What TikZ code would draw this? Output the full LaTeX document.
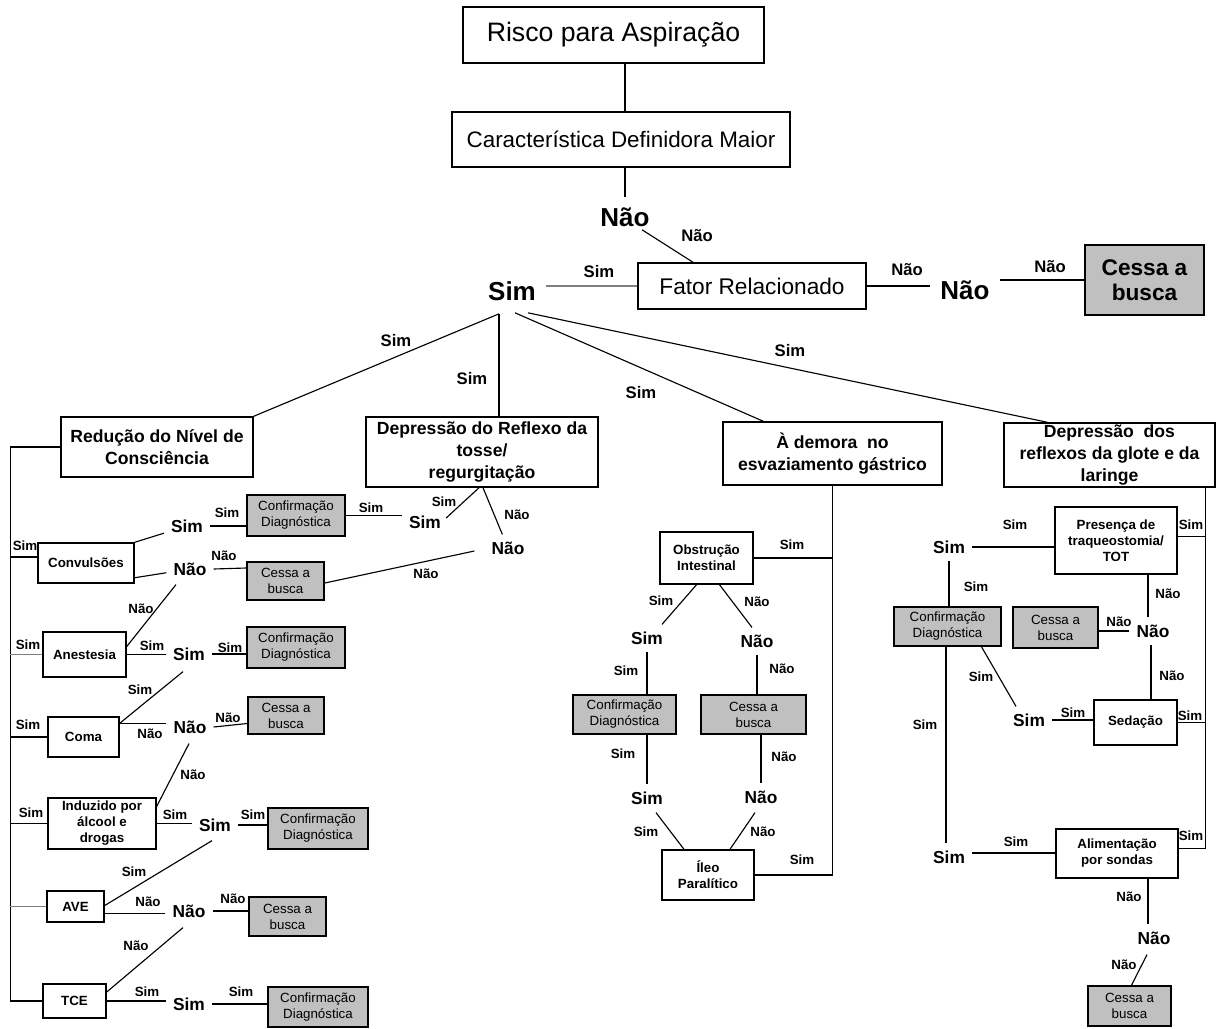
\documentclass[tikz,border=0pt]{standalone}
\usepackage{fontspec}
\setmainfont{Liberation Sans}
\usetikzlibrary{calc}
\definecolor{boxgray}{RGB}{192,192,192}

\tikzset{
  sz/.style 2 args={minimum width=#1*0.75pt, minimum height=#2*0.75pt},
  base/.style={draw, line width=1.1pt, inner sep=0pt, align=center},
  topbox/.style={base, font=\fontsize{16.8}{20}\selectfont},
  bigbox/.style={base, font=\fontsize{13.2}{16.5}\selectfont\bfseries},
  smallbox/.style={base, font=\fontsize{10}{12}\selectfont\bfseries},
  graybox/.style={base, fill=boxgray, line width=1.2pt, font=\fontsize{10}{12}\selectfont},
  bigword/.style={font=\fontsize{19.5}{22}\selectfont\bfseries, inner sep=7.5pt},
  midword/.style={font=\fontsize{13}{15}\selectfont\bfseries, inner sep=5.25pt},
  lab/.style={font=\fontsize{10}{12}\selectfont\bfseries, inner sep=0pt},
  toplab/.style={font=\fontsize{12.5}{14}\selectfont\bfseries, inner sep=0pt},
  conn/.style={line width=0.85pt},
}

\begin{document}
\begin{tikzpicture}[x=0.75pt,y=-0.75pt]
\fill[white] (0,0) rectangle (1223,1028);
\useasboundingbox (0,0) rectangle (1223,1028);

% ---------- top of the tree ----------
\node[topbox, font=\fontsize{20}{24}\selectfont, sz={301}{56}] (risco) at (613.5,35) {Risco para Aspiração};
\node[topbox, sz={338}{55}] (carac) at (621,139.5) {Característica Definidora Maior};
\node[topbox, font=\fontsize{17}{20}\selectfont, sz={228}{46}] (fator) at (752,286) {Fator Relacionado};
\node[base, fill=boxgray, line width=1.2pt, font=\fontsize{17}{19}\selectfont\bfseries, sz={119}{70}] (cessa0) at (1144.5,280) {Cessa a\\busca};

\node[bigword] (nao0) at (625,217) {Não};
\node[bigword] (sim0) at (512,291) {Sim};
\node[bigword] (nao00) at (965,290) {Não};

\draw[conn] (risco.south -| nao0) -- (carac.north -| nao0);
\draw[conn] (carac.south -| nao0) -- (nao0.north);
\draw[conn] ($(nao0.south)+(17,-7)$) -- ($(fator.north)+(-59,0)$);
\draw[conn, gray] (sim0.east |- fator.west) -- (fator.west);
\draw[conn] (fator.east) -- (fator.east -| nao00.west);
\draw[conn] (nao00.east |- cessa0.west) -- (cessa0.west);

\node[toplab] (t1) at (697,236) {Não};
\node[toplab] (t2) at (599,272) {Sim};
\node[toplab] (t3) at (907,270) {Não};
\node[toplab] (t4) at (1050,267) {Não};

% ---------- four related factors ----------
\node[bigbox, sz={192}{60}] (redu) at (157,447) {Redução do Nível de\\Consciência};
\node[bigbox, sz={232}{70}] (tosse) at (482,452) {Depressão do Reflexo da\\tosse/\\regurgitação};
\node[bigbox, sz={219}{63}] (demora) at (832.5,453.5) {À demora~~no\\esvaziamento gástrico};
\node[bigbox, sz={211}{64}] (glote) at (1109.5,455) {Depressão~~dos\\reflexos da glote e da\\laringe};

\draw[conn] ($(sim0.south)+(-13,3)$) -- (redu.north east);
\draw[conn] ($(sim0.south)+(-13,3)$) -- ($(tosse.north)+(17,0)$);
\draw[conn] ($(sim0.south)+(3,2)$) -- ($(demora.north west)+(41,0)$);
\draw[conn] ($(sim0.south)+(16,2)$) -- ($(glote.north west)+(44,0)$);

\node[toplab] (t5) at (396,341) {Sim};
\node[toplab] (t6) at (472,379) {Sim};
\node[toplab] (t7) at (641,393) {Sim};
\node[toplab] (t8) at (790,351) {Sim};

% ---------- left branch: level of consciousness ----------
\node[smallbox, sz={96}{40}] (conv) at (86,563) {Convulsões};
\node[smallbox, sz={83}{45}] (anest) at (84.5,654.5) {Anestesia};
\node[smallbox, sz={71}{40}] (coma) at (83.5,737) {Coma};
\node[smallbox, sz={108}{51}] (induz) at (102,823.5) {Induzido por\\álcool e\\drogas};
\node[smallbox, sz={57}{31}] (ave) at (75.5,906.5) {AVE};
\node[smallbox, sz={63}{34}] (tce) at (74.5,1001) {TCE};

\node[graybox, sz={98}{41}] (conf1) at (296,515.5) {Confirmação\\Diagnóstica};
\node[graybox, sz={77}{38}] (cessa1) at (285.5,581) {Cessa a\\busca};
\node[graybox, sz={98}{41}] (conf2) at (296,647.5) {Confirmação\\Diagnóstica};
\node[graybox, sz={76}{37}] (cessa2) at (286,715.5) {Cessa a\\busca};
\node[graybox, sz={100}{41}] (conf3) at (318,828.5) {Confirmação\\Diagnóstica};
\node[graybox, sz={77}{39}] (cessa3) at (287.5,916.5) {Cessa a\\busca};
\node[graybox, sz={100}{40}] (conf4) at (318,1007) {Confirmação\\Diagnóstica};

\node[midword] (s1) at (187,526) {Sim};
\node[midword] (n1) at (190,569) {Não};
\node[midword] (simT) at (425,522) {Sim};
\node[midword] (naoT) at (508,548) {Não};
\node[midword] (s2) at (189,654) {Sim};
\node[midword] (n2) at (190,727) {Não};
\node[midword] (s3) at (215,825) {Sim};
\node[midword] (n3) at (189,911) {Não};
\node[midword] (s4) at (189,1004) {Sim};

\coordinate (railL) at ($(redu.west)+(-50,0)$);
\draw[conn] (redu.west) -- (railL) -- (railL |- tce.west) -- (tce.west);
\draw[conn] ($(conv.west)+(0,-6)$) coordinate (c1) -- (c1 -| railL);
\draw[conn, gray] (anest.west) -- (anest.west -| railL);
\draw[conn] (coma.west) -- (coma.west -| railL);
\draw[conn] (induz.west) -- (induz.west -| railL);
\draw[conn, gray] (ave.west) -- (ave.west -| railL);

\draw[conn] (conv.north east) -- (s1);
\draw[conn] ($(conv.south east)+(0,-6)$) -- (n1);
\draw[conn] (s1.east) -- (s1.east -| conf1.west);
\draw[conn] (n1.east) -- ($(cessa1.west)+(0,-13)$);
\draw[conn] (conf1.east) -- (conf1.east -| simT.west);
\draw[conn] ($(simT.east)+(-2,-4)$) -- ($(tosse.south)+(-3,0)$);
\draw[conn] ($(tosse.south)+(1,0)$) -- (naoT);
\draw[conn] ($(naoT.west)+(-10,3)$) -- ($(cessa1.east)+(0,2)$);
\draw[conn] ($(n1.south)+(-14,2)$) -- ($(anest.east)+(0,-8)$);
\draw[conn] (anest.east) -- (anest.east -| s2.west);
\draw[conn] (s2.east) -- (s2.east -| conf2.west);
\draw[conn] ($(s2.south)+(-6,4)$) -- ($(coma.north east)+(0,7)$);
\draw[conn] ($(coma.north east)+(0,7)$) coordinate (c2) -- (c2 -| n2.west);
\draw[conn] (n2.east) -- ($(cessa2.west)+(0,8)$);
\draw[conn] ($(n2.south)+(-1,3)$) -- ($(induz.north east)+(0,9)$);
\draw[conn] (induz.east) -- (induz.east -| s3.west);
\draw[conn] (s3.east) -- (s3.east -| conf3.west);
\draw[conn] ($(s3.south)+(-3,2)$) -- ($(ave.east)+(0,-1)$);
\draw[conn] ($(ave.east)+(0,7)$) coordinate (c3) -- (c3 -| n3.west);
\draw[conn] (n3.east) -- (n3.east -| cessa3.west);
\draw[conn] ($(n3.south)+(-6,3)$) -- ($(tce.east)+(0,-9)$);
\draw[conn] (tce.east) -- (tce.east -| s4.west);
\draw[conn] (s4.east) -- (s4.east -| conf4.west);

\node[lab] (a1) at (25,546) {Sim};
\node[lab] (a2) at (227,513) {Sim};
\node[lab] (a3) at (371,508) {Sim};
\node[lab] (a4) at (444,502) {Sim};
\node[lab] (a5) at (517,515) {Não};
\node[lab] (a6) at (426,574) {Não};
\node[lab] (a7) at (224,556) {Não};
\node[lab] (a8) at (141,609) {Não};
\node[lab] (a9) at (28,645) {Sim};
\node[lab] (a10) at (152,646) {Sim};
\node[lab] (a11) at (230,648) {Sim};
\node[lab] (a12) at (140,690) {Sim};
\node[lab] (a13) at (28,725) {Sim};
\node[lab] (a14) at (150,734) {Não};
\node[lab] (a15) at (228,718) {Não};
\node[lab] (a16) at (193,775) {Não};
\node[lab] (a17) at (31,813) {Sim};
\node[lab] (a18) at (175,815) {Sim};
\node[lab] (a19) at (253,815) {Sim};
\node[lab] (a20) at (134,872) {Sim};
\node[lab] (a21) at (148,902) {Não};
\node[lab] (a22) at (233,899) {Não};
\node[lab] (a23) at (136,946) {Não};
\node[lab] (a24) at (147,992) {Sim};
\node[lab] (a25) at (241,992) {Sim};

% ---------- middle branch: gastric emptying ----------
\node[smallbox, sz={93}{52}] (obst) at (706.5,558) {Obstrução\\Intestinal};
\node[graybox, sz={103}{39}] (confM) at (624.5,714.5) {Confirmação\\Diagnóstica};
\node[graybox, sz={105}{39}] (cessaM) at (753.5,714.5) {Cessa a\\busca};
\node[smallbox, sz={92}{50}] (ileo) at (708,875) {Íleo\\Paralítico};

\node[midword] (sM1) at (647,638) {Sim};
\node[midword] (nM1) at (757,641) {Não};
\node[midword] (sM2) at (647,798) {Sim};
\node[midword] (nM2) at (761,797) {Não};

\draw[conn] (demora.south) -- (demora.south |- ileo.east) -- (ileo.east);
\draw[conn] (obst.east) -- (obst.east -| demora.south);
\draw[conn] ($(obst.south)+(-10,0)$) -- ($(sM1.north)+(15,0)$);
\draw[conn] ($(obst.south)+(13,0)$) -- ($(nM1.north)+(-5,0)$);
\draw[conn] (sM1.south) -- (sM1.south |- confM.north);
\draw[conn] (nM1.south) -- (nM1.south |- cessaM.north);
\draw[conn] (sM2.north |- confM.south) -- (sM2.north);
\draw[conn] (nM2.north |- cessaM.south) -- (nM2.north);
\draw[conn] ($(sM2.south)+(9,1)$) -- ($(ileo.north)+(-24,0)$);
\draw[conn] ($(nM2.south)+(-6,2)$) -- ($(ileo.north)+(22,0)$);

\node[lab] (b1) at (792,545) {Sim};
\node[lab] (b2) at (661,601) {Sim};
\node[lab] (b3) at (757,602) {Não};
\node[lab] (b4) at (626,671) {Sim};
\node[lab] (b5) at (782,669) {Não};
\node[lab] (b6) at (623,754) {Sim};
\node[lab] (b7) at (784,757) {Não};
\node[lab] (b8) at (646,832) {Sim};
\node[lab] (b9) at (763,832) {Não};
\node[lab] (b10) at (802,860) {Sim};

% ---------- right branch: glottis and larynx reflexes ----------
\node[smallbox, sz={122}{67}] (pres) at (1116,540.5) {Presença de\\traqueostomia/\\TOT};
\node[graybox, sz={107}{39}] (confR) at (947.5,626.5) {Confirmação\\Diagnóstica};
\node[graybox, sz={85}{41}] (cessaR1) at (1055.5,627.5) {Cessa a\\busca};
\node[smallbox, sz={83}{45}] (sed) at (1135.5,722.5) {Sedação};
\node[smallbox, sz={122}{49}] (alim) at (1117,853.5) {Alimentação\\por sondas};
\node[graybox, sz={83}{40}] (cessaR2) at (1129.5,1006) {Cessa a\\busca};

\node[midword] (sR1) at (949,547) {Sim};
\node[midword] (nR1) at (1153,631) {Não};
\node[midword] (sR2) at (1029,720) {Sim};
\node[midword] (sR3) at (949,857) {Sim};
\node[midword] (nR2) at (1154,938) {Não};

\coordinate (railR) at ($(glote.south east)+(-10,0)$);
\draw[conn] ($(alim.east)+(0,-5)$) coordinate (c5) -- (c5 -| railR) -- (railR);
\draw[conn] ($(pres.east)+(0,-4)$) coordinate (c6) -- (c6 -| railR);
\draw[conn] (sed.east) -- (sed.east -| railR);
\draw[conn] (sR1.east) -- (sR1.east -| pres.west);
\draw[conn] (sR1.south) -- (sR1.south |- confR.north);
\draw[conn] ($(nR1.north)+(-5,0)$) coordinate (c7) -- (c7 |- pres.south);
\draw[conn] (nR1.west) -- (nR1.west -| cessaR1.east);
\draw[conn] ($(nR1.south)+(-2,0)$) coordinate (c8) -- (c8 |- sed.north);
\draw[conn] ($(confR.south)+(34,0)$) -- ($(sR2.north)+(-13,0)$);
\draw[conn] (sR2.east) -- (sR2.east -| sed.west);
\draw[conn] ($(sR3.north)+(-3,0)$) coordinate (c9) -- (c9 |- confR.south);
\draw[conn] ($(sR3.east)+(0,-4)$) coordinate (c10) -- (c10 -| alim.west);
\draw[conn] ($(nR2.north)+(-6,0)$) coordinate (c11) -- (c11 |- alim.south);
\draw[conn] ($(nR2.south)+(-7,3)$) -- ($(cessaR2.north)+(2,0)$);

\node[lab] (r1) at (1191,525) {Sim};
\node[lab] (r2) at (1015,525) {Sim};
\node[lab] (r3) at (976,587) {Sim};
\node[lab] (r4) at (1168,594) {Não};
\node[lab] (r5) at (1119,622) {Não};
\node[lab] (r6) at (1172,676) {Não};
\node[lab] (r7) at (1190,716) {Sim};
\node[lab] (r8) at (981,677) {Sim};
\node[lab] (r9) at (1073,713) {Sim};
\node[lab] (r10) at (925,725) {Sim};
\node[lab] (r11) at (1016,842) {Sim};
\node[lab] (r12) at (1191,836) {Sim};
\node[lab] (r13) at (1129,897) {Não};
\node[lab] (r14) at (1124,965) {Não};
\end{tikzpicture}
\end{document}
